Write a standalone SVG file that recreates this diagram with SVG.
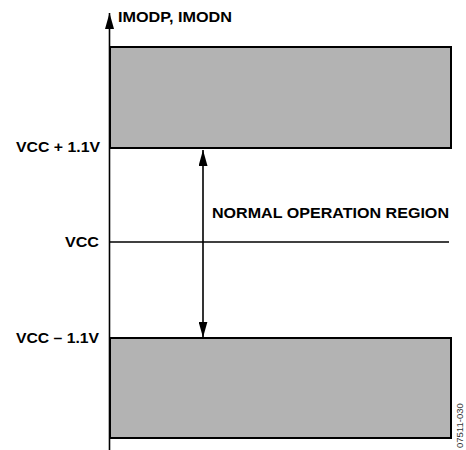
<svg xmlns="http://www.w3.org/2000/svg" width="466" height="450" viewBox="0 0 466 450">
<style>
.lbl{font-family:"Liberation Sans",Arial,sans-serif;font-weight:bold;font-size:15.5px;fill:#000}
.band{fill:#b3b3b3;stroke:#000;stroke-width:2}
.ln{stroke:#000;stroke-width:1.6;fill:none}
</style>
<defs>
<marker id="ah" markerWidth="16" markerHeight="9" refX="16" refY="4.5" orient="auto" markerUnits="userSpaceOnUse" viewBox="0 0 16 9">
<path d="M0,0 L16,4.5 L0,9 Z" fill="#000"/>
</marker>
</defs>
<g id="band-top"><rect class="band" x="110" y="47" width="341" height="101"/></g>
<g id="band-bottom"><rect class="band" x="110" y="338" width="341" height="100"/></g>
<g id="connectors">
<line class="ln" x1="109.5" y1="450" x2="109.5" y2="13" marker-end="url(#ah)"/>
<line class="ln" x1="110" y1="242" x2="449" y2="242"/>
<line class="ln" x1="203" y1="240" x2="203" y2="150" marker-end="url(#ah)"/>
<line class="ln" x1="203" y1="240" x2="203" y2="337.5" marker-end="url(#ah)"/>
</g>
<g id="labels">
<text class="lbl" x="118" y="22" textLength="114" lengthAdjust="spacingAndGlyphs">IMODP, IMODN</text>
<text class="lbl" x="100" y="152" text-anchor="end" textLength="84" lengthAdjust="spacingAndGlyphs">VCC + 1.1V</text>
<text class="lbl" x="99" y="247" text-anchor="end" textLength="34" lengthAdjust="spacingAndGlyphs">VCC</text>
<text class="lbl" x="99" y="343" text-anchor="end" textLength="83" lengthAdjust="spacingAndGlyphs">VCC – 1.1V</text>
<text class="lbl" x="212" y="218" textLength="237" lengthAdjust="spacingAndGlyphs">NORMAL OPERATION REGION</text>
<text x="463" y="448" transform="rotate(-90 463 448)" font-family="'Liberation Sans',Arial,sans-serif" font-size="9.5" fill="#333">07511-030</text>
</g>
</svg>
